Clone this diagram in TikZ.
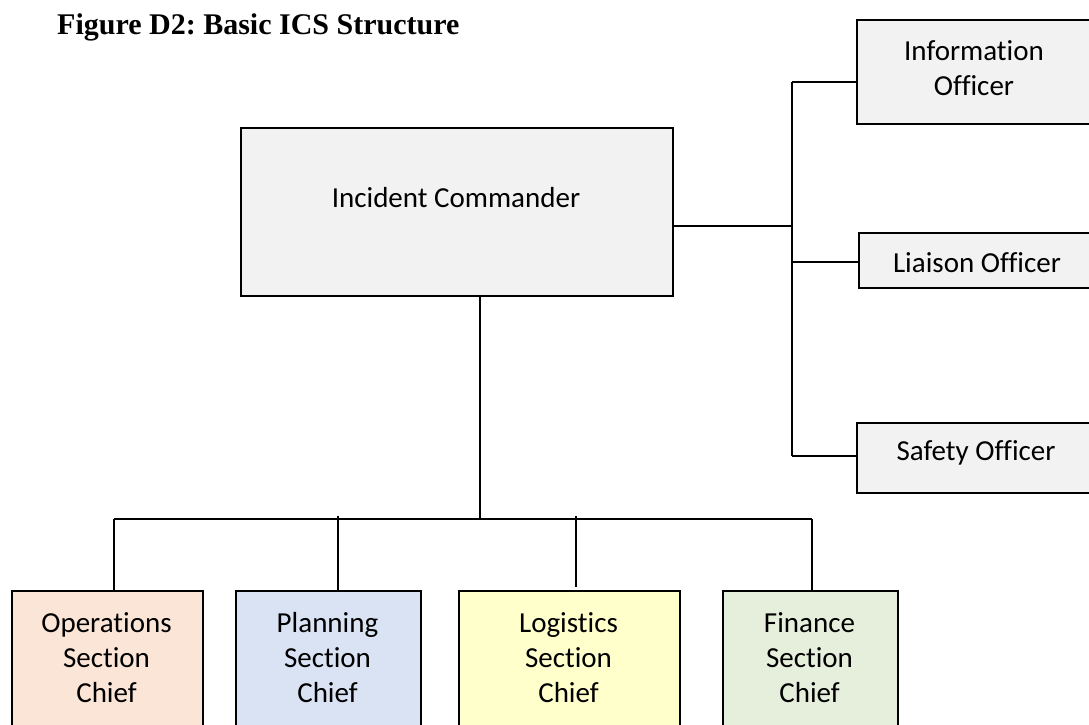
\documentclass[tikz,border=0pt]{standalone}
\usepackage{fontspec}
\usetikzlibrary{calc}
\setmainfont{Carlito}[Ligatures=NoCommon]
\newfontfamily\titlefont{Liberation Serif}
\frenchspacing
\definecolor{boxgray}{HTML}{F2F2F2}
\definecolor{opsfill}{HTML}{FBE5D6}
\definecolor{planfill}{HTML}{DAE3F3}
\definecolor{logfill}{HTML}{FFFFCC}
\definecolor{finfill}{HTML}{E6EFDB}
\tikzset{
  orgbox/.style={draw=black, line width=1.9pt, rectangle, inner sep=0pt, anchor=north west},
  lbl/.style={font=\fontsize{29}{35}\selectfont, align=center, inner sep=0pt, anchor=base, text=black},
  link/.style={draw=black, line width=2.1pt}
}
\begin{document}
\begin{tikzpicture}[x=1pt,y=-1pt]
\useasboundingbox (0,0) rectangle (1089,725);
\clip (0,0) rectangle (1089,725);
\fill[white] (0,0) rectangle (1089,725);
% title
\node[anchor=base west, inner sep=0pt, font=\titlefont\bfseries\fontsize{30}{36}\selectfont] (title) at (57,35) {Figure D2: Basic ICS Structure};
% boxes
\node[orgbox, fill=boxgray, minimum width=432pt, minimum height=168pt] (ic) at (240,127) {};
\node[orgbox, fill=boxgray, minimum width=260pt, minimum height=104pt] (info) at (856,19) {};
\node[orgbox, fill=boxgray, minimum width=260pt, minimum height=55pt] (liaison) at (858,232) {};
\node[orgbox, fill=boxgray, minimum width=260pt, minimum height=70pt] (safety) at (856,422) {};
\node[orgbox, fill=opsfill, minimum width=191pt, minimum height=220pt] (ops) at (11,590) {};
\node[orgbox, fill=planfill, minimum width=185pt, minimum height=220pt] (plan) at (235,590) {};
\node[orgbox, fill=logfill, minimum width=221pt, minimum height=220pt] (log) at (458,590) {};
\node[orgbox, fill=finfill, minimum width=175pt, minimum height=220pt] (fin) at (722,590) {};
% labels (base anchor = baseline of the last line)
\node[lbl] (icl) at (456,207) {Incident Commander};
\node[lbl] (infol) at (974,95) {Information\\Officer};
\node[lbl] (liaisonl) at (977,272) {Liaison Officer};
\node[lbl] (safetyl) at (976,460) {Safety Officer};
\node[lbl] (opsl) at (106.5,702) {Operations\\Section\\Chief};
\node[lbl] (planl) at (327.5,702) {Planning\\Section\\Chief};
\node[lbl] (logl) at (568.5,702) {Logistics\\Section\\Chief};
\node[lbl] (finl) at (809.5,702) {Finance\\Section\\Chief};
% connector points
\coordinate (hub) at (792,226);
\coordinate (tinfo) at (792,82);
\coordinate (tliaison) at (792,262);
\coordinate (tsafety) at (792,456);
\coordinate (busc) at (480,519);
\coordinate (b1) at (114,519);
\coordinate (b2) at (338,516);
\coordinate (b3) at (576,516);
\coordinate (b4) at (812,519);
% staff connectors
\draw[link] (hub -| ic.east) -- (hub);
\draw[link] (tinfo) -- (tsafety);
\draw[link] (tinfo) -- (tinfo -| info.west);
\draw[link] (tliaison) -- (tliaison -| liaison.west);
\draw[link] (tsafety) -- (tsafety -| safety.west);
% section connectors
\draw[link] (busc |- ic.south) -- (busc);
\draw[link] (b1) -- (b4);
\draw[link] (b1) -- (b1 |- ops.north);
\draw[link] (b2) -- (b2 |- plan.north);
\draw[link] (b3) -- ($(b3 |- log.north)+(0,-3)$);
\draw[link] (b4) -- (b4 |- fin.north);
\end{tikzpicture}
\end{document}
